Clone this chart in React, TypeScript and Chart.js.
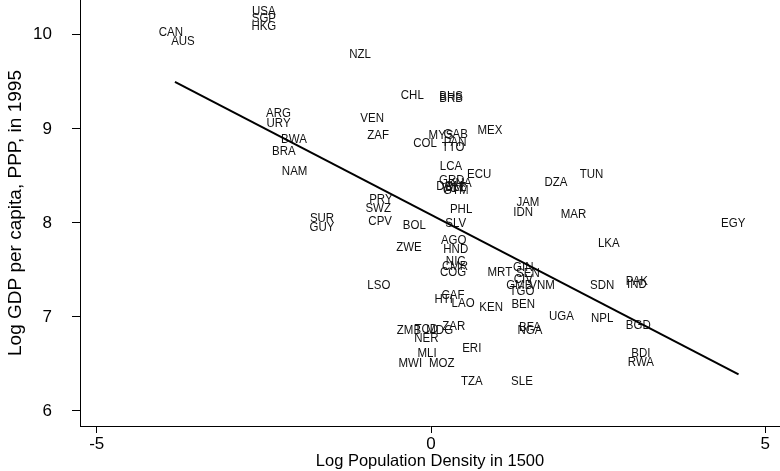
import React, { useEffect, useRef } from "react";
import { Chart, registerables } from "chart.js";

Chart.register(...registerables);

const codes = [
  "USA", "SGP", "HKG", "CAN", "AUS", "NZL", "CHL", "BHS", "BRB", "ARG",
  "URY", "VEN", "MEX", "ZAF", "MYS", "GAB", "PAN", "COL", "TTO", "BWA",
  "BRA", "NAM", "LCA", "ECU", "GRD", "KNA", "DOM", "BLZ", "VCT", "GTM",
  "DZA", "TUN", "PRY", "SWZ", "JAM", "IDN", "PHL", "MAR", "SUR", "GUY",
  "CPV", "BOL", "SLV", "EGY", "AGO", "HND", "ZWE", "LKA", "NIC", "CMR",
  "COG", "GIN", "MRT", "SEN", "CIV", "GMB", "VNM", "TGO", "SDN", "PAK",
  "IND", "LSO", "CAF", "HTI", "LAO", "KEN", "BEN", "UGA", "NPL", "BGD",
  "ZMB", "TCD", "MDG", "ZAR", "NER", "BFA", "NGA", "ERI", "MLI", "MWI",
  "MOZ", "BDI", "RWA", "TZA", "SLE",
];

const popDensity1500 = [
  -2.5, -2.5, -2.5, -3.89, -3.71, -1.06, -0.28, 0.3, 0.3, -2.28,
  -2.28, -0.88, 0.88, -0.79, 0.15, 0.37, 0.36, -0.09, 0.33, -2.05,
  -2.2, -2.04, 0.3, 0.72, 0.31, 0.43, 0.28, 0.37, 0.33, 0.37,
  1.87, 2.4, -0.75, -0.79, 1.45, 1.38, 0.45, 2.13, -1.63, -1.63,
  -0.76, -0.25, 0.37, 4.52, 0.34, 0.37, -0.33, 2.66, 0.37, 0.36,
  0.33, 1.38, 1.03, 1.45, 1.38, 1.32, 1.66, 1.36, 2.56, 3.08,
  3.08, -0.78, 0.33, 0.19, 0.48, 0.9, 1.38, 1.95, 2.56, 3.1,
  -0.33, -0.07, 0.13, 0.34, -0.07, 1.48, 1.48, 0.61, -0.06, -0.31,
  0.16, 3.14, 3.14, 0.61, 1.36,
];

const logGdp1995 = [
  10.245, 10.17, 10.085, 10.02, 9.925, 9.79, 9.36, 9.34, 9.32, 9.16,
  9.06, 9.11, 8.98, 8.93, 8.93, 8.94, 8.86, 8.85, 8.8, 8.89,
  8.755, 8.55, 8.6, 8.51, 8.45, 8.415, 8.39, 8.38, 8.37, 8.34,
  8.43, 8.52, 8.245, 8.15, 8.22, 8.11, 8.14, 8.085, 8.05, 7.95,
  8.02, 7.97, 7.99, 7.99, 7.81, 7.72, 7.74, 7.78, 7.585, 7.54,
  7.47, 7.53, 7.47, 7.46, 7.4, 7.34, 7.33, 7.27, 7.34, 7.38,
  7.35, 7.34, 7.23, 7.19, 7.14, 7.1, 7.13, 7.0, 6.98, 6.91,
  6.86, 6.87, 6.86, 6.9, 6.77, 6.89, 6.86, 6.66, 6.61, 6.51,
  6.51, 6.61, 6.52, 6.31, 6.31,
];

const fitX = [-3.83, 4.6];
const fitY = [9.5, 6.39];

const xTicks = [-5, 0, 5];
const yTicks = [6, 7, 8, 9, 10];

const FONT = "'Liberation Sans', Arial, Helvetica, sans-serif";

const labelPlugin = {
  id: "countryLabels",
  beforeDatasetsDraw(chart: any) {
    const meta = chart.getDatasetMeta(0);
    const ctx = chart.ctx;
    ctx.save();
    ctx.font = `11.5px ${FONT}`;
    ctx.fillStyle = "#111";
    ctx.textAlign = "center";
    ctx.textBaseline = "middle";
    meta.data.forEach((el: any, i: number) => {
      ctx.save();
      ctx.translate(el.x, el.y);
      ctx.scale(1, 1.13);
      ctx.fillText(codes[i], 0, 0);
      ctx.restore();
    });
    ctx.restore();
  },
};

export default function App() {
  const ref = useRef<HTMLCanvasElement | null>(null);
  useEffect(() => {
    if (!ref.current) return;
    const chart = new Chart(ref.current, {
      type: "scatter",
      data: {
        datasets: [
          {
            label: "countries",
            data: codes.map((_, i) => ({ x: popDensity1500[i], y: logGdp1995[i] })),
            pointRadius: 0,
            pointHoverRadius: 0,
          } as any,
          {
            type: "line",
            label: "fit",
            data: fitX.map((x, i) => ({ x, y: fitY[i] })),
            borderColor: "#000",
            borderWidth: 2,
            pointRadius: 0,
            fill: false,
          } as any,
        ],
      },
      options: {
        animation: false,
        responsive: false,
        layout: { padding: 0 },
        plugins: {
          legend: { display: false },
          tooltip: { enabled: false },
        },
        scales: {
          x: {
            type: "linear",
            min: -5.25,
            max: 5.22,
            afterBuildTicks: (s: any) => {
              s.ticks = xTicks.map((v) => ({ value: v }));
            },
            afterFit: (s: any) => {
              s.height = 45;
              s.paddingLeft = 0;
              s.paddingRight = 0;
            },
            grid: { drawOnChartArea: false, drawTicks: true, tickLength: 7, color: "#000" },
            border: { display: true, color: "#000", width: 1 },
            ticks: { color: "#000", font: { family: FONT, size: 17 }, padding: 1, maxRotation: 0 },
            title: {
              display: true,
              text: "Log Population Density in 1500",
              color: "#000",
              font: { family: FONT, size: 16.5 },
              padding: { top: 0, bottom: 0 },
            },
          },
          y: {
            type: "linear",
            min: 5.84,
            max: 10.37,
            afterBuildTicks: (s: any) => {
              s.ticks = yTicks.map((v) => ({ value: v }));
            },
            afterFit: (s: any) => {
              s.width = 80;
              s.paddingTop = 0;
              s.paddingBottom = 0;
            },
            grid: { drawOnChartArea: false, drawTicks: true, tickLength: 8, color: "#000" },
            border: { display: true, color: "#000", width: 1 },
            ticks: { color: "#000", font: { family: FONT, size: 17 }, padding: 20 },
            title: {
              display: true,
              text: "Log GDP per capita, PPP, in 1995",
              color: "#000",
              font: { family: FONT, size: 19 },
              padding: { top: 4, bottom: 0 },
            },
          },
        },
      },
      plugins: [labelPlugin],
    });
    return () => chart.destroy();
  }, []);
  return (
    <div style={{ position: "absolute", left: 0, top: 0, width: 780, height: 471 }}>
      <canvas ref={ref} width={780} height={471} style={{ width: 780, height: 471 }} />
    </div>
  );
}
